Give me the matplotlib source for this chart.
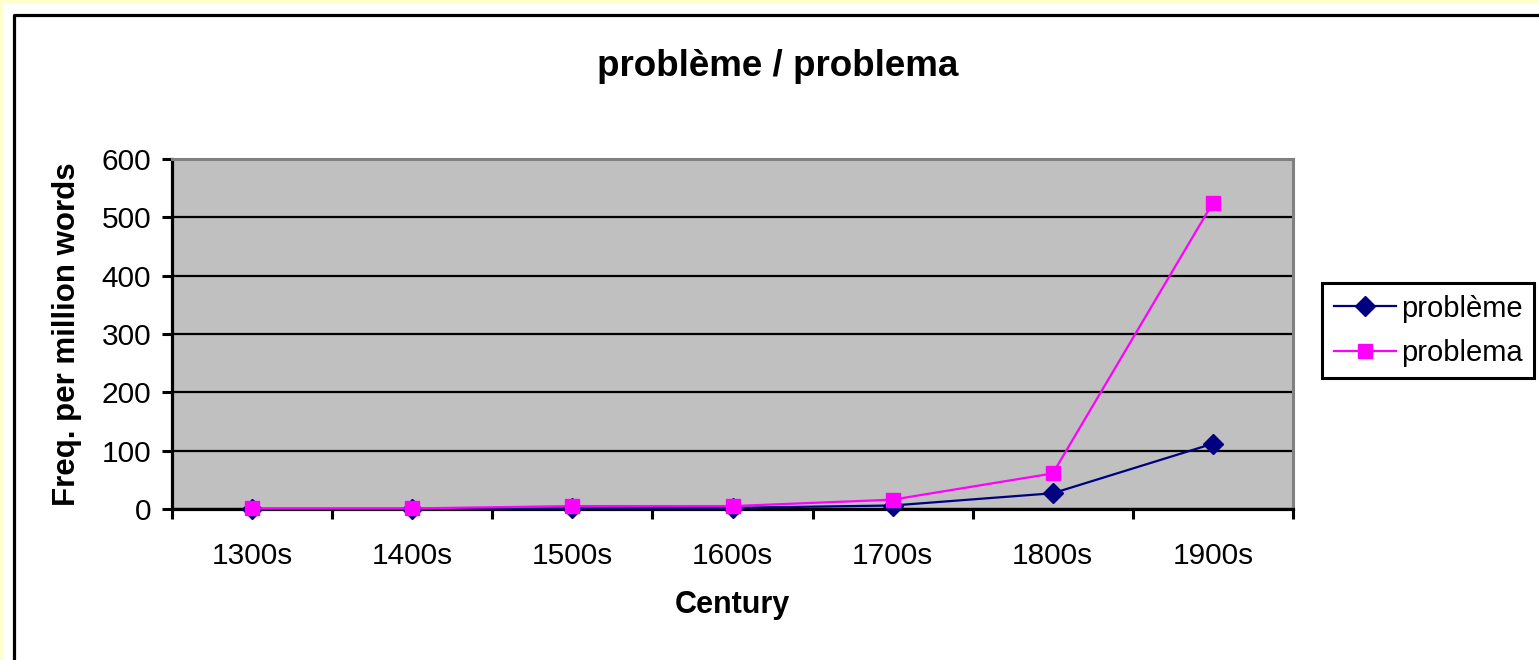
import matplotlib
matplotlib.use("Agg")
import matplotlib.pyplot as plt
from matplotlib.patches import Rectangle
from matplotlib.lines import Line2D
import numpy as np

plt.rcParams['font.family'] = ['Liberation Sans', 'DejaVu Sans']

# data
centuries = ['1300s', '1400s', '1500s', '1600s', '1700s', '1800s', '1900s']
probleme = [0, 0, 1, 2, 6, 27, 112]
problema = [1, 1, 5, 5, 16, 61, 525]
yticks = [0, 100, 200, 300, 400, 500, 600]

W, H = 1539, 660
fig = plt.figure(figsize=(W / 100, H / 100), dpi=100, facecolor='#FFFFCC')

# white page with the chart frame
fig.patches.append(Rectangle((3 / W, 0), 1, 1 - 4 / H, transform=fig.transFigure,
                             facecolor='white', edgecolor='none', zorder=-10))
fx, fy = 13.5 / W, 1 - 15 / H
fig.lines.append(Line2D([fx, fx, 1.0], [0, fy, fy], transform=fig.transFigure,
                        color='black', linewidth=2.3, solid_capstyle='butt', zorder=-5))

ax = fig.add_axes([172 / W, 1 - 509 / H, (1293 - 172) / W, (509 - 159) / H])
ax.set_facecolor('#C0C0C0')

x = np.arange(len(centuries))
ax.plot(x, probleme, color='#000080', linewidth=1.6, marker='D', markersize=10,
        label='problème', clip_on=False, zorder=4)
ax.plot(x, problema, color='#FF00FF', linewidth=1.6, marker='s', markersize=10,
        label='problema', clip_on=False, zorder=5)

ax.set_xlim(-0.5, len(centuries) - 0.5)
ax.set_ylim(0, 600)
ax.set_yticks(yticks)
ax.set_xticks(x)
ax.set_xticklabels(centuries)
ax.set_xticks(np.arange(len(centuries) + 1) - 0.5, minor=True)
ax.tick_params(axis='x', which='major', length=0, pad=24, labelsize=21.5)
ax.tick_params(axis='x', which='minor', length=7, width=2.2, direction='out')
ax.tick_params(axis='y', length=7, width=2.2, direction='out', pad=8, labelsize=21.5)

ax.grid(axis='y', color='black', linewidth=1.6, zorder=1)
ax.set_axisbelow(True)

for side in ['left', 'bottom']:
    ax.spines[side].set_color('black')
    ax.spines[side].set_linewidth(2.3)
for side in ['top', 'right']:
    ax.spines[side].set_color('#808080')
    ax.spines[side].set_linewidth(2.2)

ax.set_xlabel('Century', fontsize=22, fontweight='bold', labelpad=14)
ax.set_ylabel('Freq. per million words', fontsize=22.5, fontweight='bold', labelpad=14)
fig.text(778 / W, 1 - 66 / H, 'problème / problema', fontsize=26.5, fontweight='bold',
         ha='center', va='center')

leg = ax.legend(loc='upper left', bbox_to_anchor=(1322 / W, 1 - 283 / H),
                bbox_transform=fig.transFigure, fontsize=21, frameon=True,
                fancybox=False, edgecolor='black', framealpha=1, handlelength=2.15,
                handletextpad=0.15, borderpad=0.4, labelspacing=0.55, borderaxespad=0)
leg.get_frame().set_linewidth(2.2)

fig.savefig('out.png', dpi=100, facecolor=fig.get_facecolor())
